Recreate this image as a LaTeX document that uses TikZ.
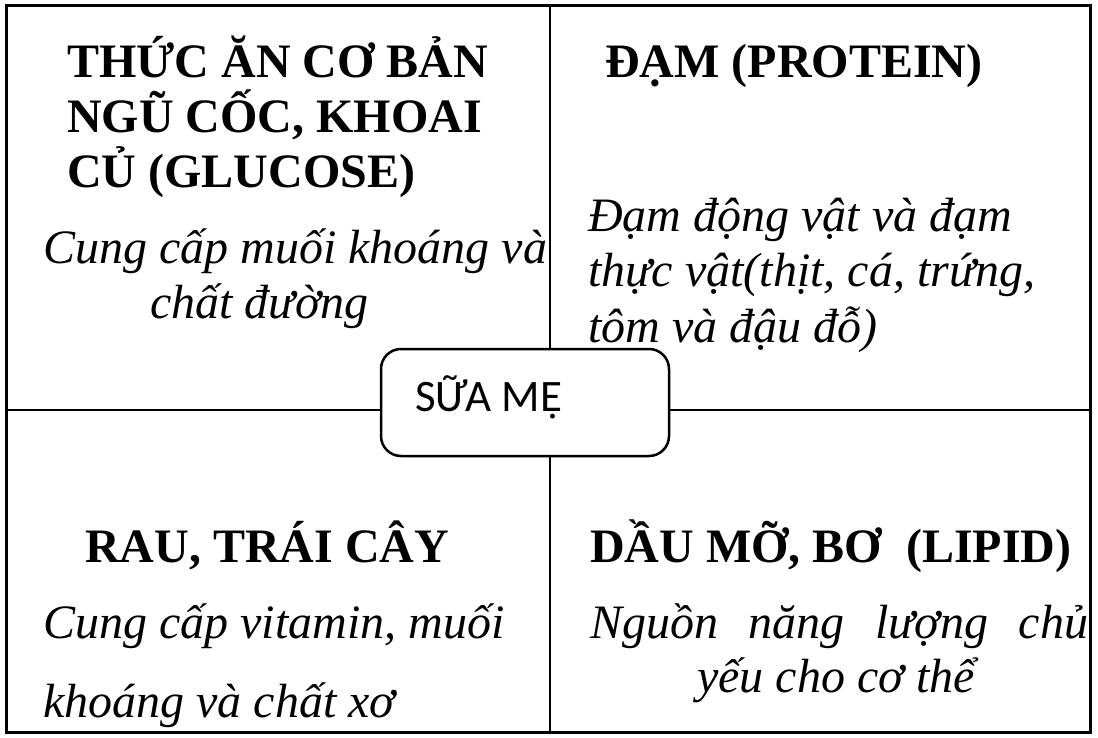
\documentclass[tikz,border=0pt]{standalone}
\usepackage{fontspec}
\setmainfont{Liberation Serif}
\newfontfamily\calibri{Carlito}
\usepackage{tikz}
\usetikzlibrary{positioning}
\tikzstyle{heading} = [anchor=base west,inner sep=0pt,font=\fontsize{48}{55}\selectfont\bfseries]
\tikzstyle{note} = [anchor=base west,inner sep=0pt,font=\fontsize{48}{56}\selectfont\itshape]
\tikzstyle{divider} = [line width=2.5pt]

\begin{document}
\begin{tikzpicture}[x=1pt,y=-1pt]
\useasboundingbox (0,0) rectangle (1098,738);

% Outer frame
\draw[line width=3pt] (6,6) rectangle (1090,732);

% Quadrant dividers
\coordinate (top) at (550,6);
\coordinate (bottom) at (550,732);
\coordinate (left) at (6,410);
\coordinate (right) at (1090,410);
\draw[divider] (top) -- (bottom);
\draw[divider] (left) -- (right);

% Centre box
\node[draw,line width=2.5pt,fill=white,rounded corners=20pt,minimum width=288pt,minimum height=107pt] (milkbox) at (525,402.5) {};
\node[anchor=base west,inner sep=0pt,font=\fontsize{45}{50}\calibri] (milk) at (415,411) {SỮA MẸ};

% Top left: glucose
\node[heading] (glucA) at (67,78) {THỨC ĂN CƠ BẢN};
\node[heading] (glucB) at (67,133) {NGŨ CỐC, KHOAI};
\node[heading] (glucC) at (67,188) {CỦ (GLUCOSE)};
\node[note] (glucD) at (43,263) {Cung cấp muối khoáng và};
\node[note] (glucE) at (150,318) {chất đường};

% Top right: protein
\node[heading] (protA) at (605,78) {ĐẠM (PROTEIN)};
\node[note] (protB) at (588,232) {Đạm động vật và đạm};
\node[note] (protC) at (588,287) {thực vật(thịt, cá, trứng,};
\node[note] (protD) at (588,342) {tôm và đậu đỗ)};

% Bottom left: vegetables
\node[heading] (vegA) at (85,562) {RAU, TRÁI CÂY};
\node[note] (vegB) at (43,638) {Cung cấp vitamin, muối};
\node[note] (vegC) at (43,717) {khoáng và chất xơ};

% Bottom right: lipid
\node[heading] (lipA) at (590,562) {DẦU MỠ, BƠ~ (LIPID)};
\node[note] (lipB) at (590,638) {\makebox[498pt][s]{Nguồn năng lượng chủ}};
\node[note] (lipC) at (697,692) {yếu cho cơ thể};
\end{tikzpicture}
\end{document}
